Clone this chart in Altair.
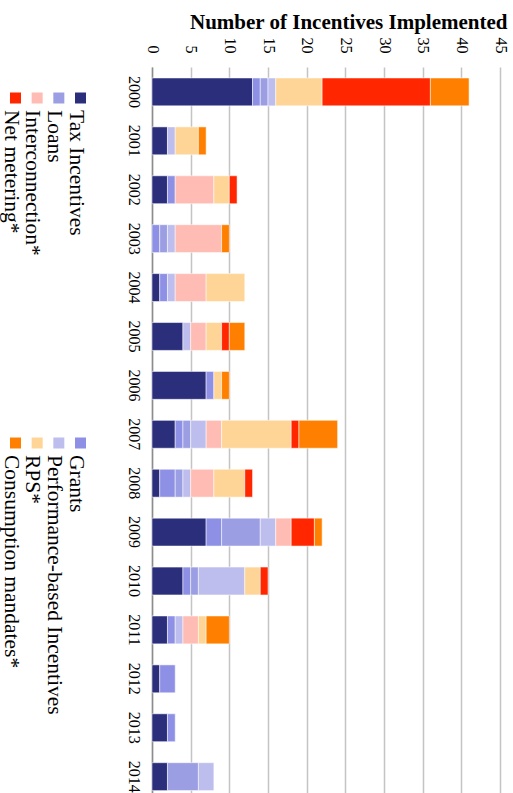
import altair as alt
import pandas as pd

# Years on the category axis
years = [str(y) for y in range(2000, 2015)]

# Incentive types, in stacking / legend order
categories = [
    "Tax Incentives",
    "Grants",
    "Loans",
    "Performance-based Incentives",
    "Interconnection*",
    "RPS*",
    "Net metering*",
    "Consumption mandates*",
]
colors = ["#2b2e7b", "#8d90e4", "#9b9ee3", "#bdbeee",
          "#ffbcb4", "#fed596", "#ff2600", "#ff8000"]

# Number of incentives implemented per year, one list per type
tax_incentives = [13, 2, 2, 0, 1, 4, 7, 3, 1, 7, 4, 2, 1, 2, 2]
grants = [1, 0, 1, 1, 1, 0, 1, 1, 2, 2, 1, 1, 2, 1, 0]
loans = [1, 0, 0, 1, 0, 0, 0, 1, 1, 5, 1, 0, 0, 0, 4]
performance_based = [1, 1, 0, 1, 1, 1, 0, 2, 1, 2, 6, 1, 0, 0, 2]
interconnection = [0, 0, 5, 6, 4, 2, 0, 2, 3, 2, 0, 2, 0, 0, 0]
rps = [6, 3, 2, 0, 5, 2, 1, 9, 4, 0, 2, 1, 0, 0, 0]
net_metering = [14, 0, 1, 0, 0, 1, 0, 1, 1, 3, 1, 0, 0, 0, 0]
consumption_mandates = [5, 1, 0, 1, 0, 2, 1, 5, 0, 1, 0, 3, 0, 0, 0]

series = [tax_incentives, grants, loans, performance_based,
          interconnection, rps, net_metering, consumption_mandates]

# Legend layout: slot along the rotated legend and which of the two groups
legend_slot = [3, 3, 2, 2, 1, 1, 0, 0]
legend_group = [0, 1, 0, 1, 0, 1, 0, 1]

tick_values = list(range(0, 46, 5))

rows = []
for i, (cat, vals) in enumerate(zip(categories, series)):
    for year, v in zip(years, vals):
        if v > 0:
            rows.append({"year": year, "category": cat, "order": i, "count": v})
df = pd.DataFrame(rows)

legend_df = pd.DataFrame({
    "category": categories,
    "slot": legend_slot,
    "group": legend_group,
})

font = "Liberation Serif"
color_scale = alt.Scale(domain=categories, range=colors)

bars = alt.Chart(df).mark_bar(
    stroke="white", strokeWidth=1, strokeOpacity=0.5
).encode(
    y=alt.Y(
        "year:O",
        sort=years,
        scale=alt.Scale(paddingInner=0.43, paddingOuter=0.137, align=0.82),
        axis=alt.Axis(
            title=None,
            labelAngle=90,
            labelAlign="center",
            labelBaseline="top",
            labelPadding=11,
            ticks=False,
            domainColor="#8c8c8c",
            domainWidth=1.5,
            labelFont=font,
            labelFontSize=16,
            labelColor="black",
        ),
    ),
    x=alt.X(
        "count:Q",
        stack="zero",
        scale=alt.Scale(domain=[0, 45], nice=False),
        axis=alt.Axis(
            orient="top",
            values=tick_values,
            title="Number of Incentives Implemented",
            titleFont=font,
            titleFontSize=21,
            titleFontWeight="bold",
            titleColor="black",
            titleAlign="right",
            titleAnchor="end",
            titleBaseline="alphabetic",
            titleX=355,
            titleY=-39,
            labelAngle=90,
            labelAlign="right",
            labelBaseline="middle",
            labelPadding=14,
            labelFont=font,
            labelFontSize=16,
            labelColor="black",
            ticks=False,
            domain=False,
            grid=True,
            gridColor="#c4c4c4",
            gridWidth=1.5,
        ),
    ),
    color=alt.Color("category:N", scale=color_scale, legend=None),
    order=alt.Order("order:Q"),
).properties(width=348, height=726)

# Rotated legend built from its own scales
legend_x = alt.X("slot:Q", scale=alt.Scale(domain=[0, 3], range=[15.5, 80.5]), axis=None)
legend_y = alt.Y("group:Q", scale=alt.Scale(domain=[0, 1], range=[31, 376]), axis=None)

swatches = alt.Chart(legend_df).mark_square(size=121, opacity=1).encode(
    x=legend_x,
    y=legend_y,
    color=alt.Color("category:N", scale=color_scale, legend=None),
)

labels = alt.Chart(legend_df).mark_text(
    angle=90, align="left", baseline="alphabetic", dx=12, dy=11,
    font=font, fontSize=21.5, color="black",
).encode(
    x=legend_x,
    y=legend_y,
    text="category:N",
)

legend = alt.layer(swatches, labels).properties(width=95, height=726)

chart = alt.hconcat(legend, bars, spacing=30).properties(
    padding={"left": 0, "top": 11, "right": 5, "bottom": 0},
    background="white",
).configure_view(stroke=None)

chart.save("out.html", embed_options={"renderer": "svg", "actions": False})
